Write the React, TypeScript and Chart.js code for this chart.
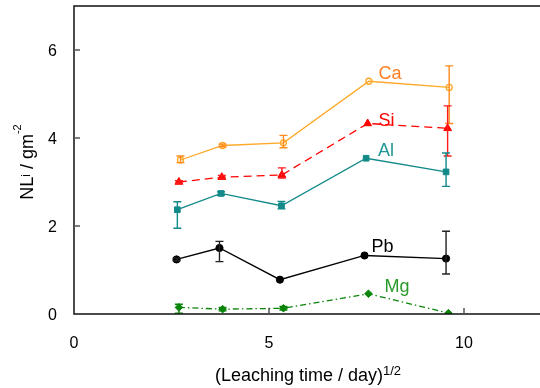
import React, { useEffect, useRef } from "react";
import { Chart, registerables } from "chart.js";
Chart.register(...registerables);

// ---- axis data ----
const X_MIN = 0;
const X_MAX = 12;
const Y_MIN = 0;
const Y_MAX = 7;
const X_TICKS = [0, 5, 10];
const Y_TICKS = [0, 2, 4, 6];

// ---- series data ----
const CA_X = [2.73, 3.81, 5.37, 7.56, 9.62];
const CA_Y = [3.5, 3.83, 3.89, 5.29, 5.15];
const CA_HI = [3.59, 3.86, 4.06, null, 5.64];
const CA_LO = [3.44, 3.8, 3.78, null, 4.33];

const SI_X = [2.69, 3.79, 5.33, 7.53, 9.58];
const SI_Y = [3.0, 3.11, 3.16, 4.33, 4.22];
const SI_HI = [3.03, 3.15, 3.32, null, 4.73];
const SI_LO = [2.97, 3.07, 3.09, null, 3.59];

const AL_X = [2.65, 3.77, 5.32, 7.49, 9.54];
const AL_Y = [2.37, 2.74, 2.46, 3.54, 3.23];
const AL_HI = [2.55, 2.78, 2.56, null, 3.66];
const AL_LO = [1.95, 2.7, 2.39, null, 2.9];

const PB_X = [2.63, 3.73, 5.28, 7.45, 9.54];
const PB_Y = [1.24, 1.5, 0.78, 1.33, 1.26];
const PB_HI = [1.27, 1.65, null, null, 1.88];
const PB_LO = [1.21, 1.19, null, null, 0.91];

const MG_X = [2.69, 3.81, 5.37, 7.55, 9.6];
const MG_Y = [0.15, 0.11, 0.13, 0.46, 0.02];
const MG_HI = [0.22, 0.15, 0.17, null, null];
const MG_LO = [0.02, 0.07, 0.09, null, null];

// series labels (text, x, baseline y in data units)
const LABEL_TEXT = ["Ca", "Si", "Al", "Pb", "Mg"];
const LABEL_X = [8.1, 8.01, 8.0, 7.91, 8.28];
const LABEL_Y = [5.34, 4.27, 3.59, 1.42, 0.5];

const X_TITLE = "(Leaching time / day)";
const X_TITLE_SUP = "1/2";

const FONT = '"Liberation Sans", Arial, Helvetica, sans-serif';

const SERIES = [
  { name: "Ca", xs: CA_X, ys: CA_Y, hi: CA_HI, lo: CA_LO, color: "#FFA726", err: "#FF8A1E", label: "#FF7F22", style: "circle", r: 3, fill: false, dash: [] as number[] },
  { name: "Si", xs: SI_X, ys: SI_Y, hi: SI_HI, lo: SI_LO, color: "#FF0000", err: "#FF1A1A", label: "#FF0000", style: "triangle", r: 4.5, fill: true, dash: [8, 5] },
  { name: "Al", xs: AL_X, ys: AL_Y, hi: AL_HI, lo: AL_LO, color: "#138A8A", err: "#138A8A", label: "#1E9494", style: "rect", r: 4, fill: true, dash: [] as number[] },
  { name: "Pb", xs: PB_X, ys: PB_Y, hi: PB_HI, lo: PB_LO, color: "#000000", err: "#222222", label: "#000000", style: "circle", r: 3.6, fill: true, dash: [] as number[] },
  { name: "Mg", xs: MG_X, ys: MG_Y, hi: MG_HI, lo: MG_LO, color: "#0A850A", err: "#0A850A", label: "#2A9A2A", style: "rectRot", r: 3.8, fill: true, dash: [6, 3, 1.5, 3] },
];

function drawRich(ctx: CanvasRenderingContext2D, segs: { t: string; size: number; dy: number }[], cx: number, baseY: number) {
  let total = 0;
  for (const s of segs) {
    ctx.font = `${s.size}px ${FONT}`;
    total += ctx.measureText(s.t).width;
  }
  let x = cx - total / 2;
  ctx.textAlign = "left";
  ctx.textBaseline = "alphabetic";
  for (const s of segs) {
    ctx.font = `${s.size}px ${FONT}`;
    ctx.fillText(s.t, x, baseY + s.dy);
    x += ctx.measureText(s.t).width;
  }
}

const decorPlugin = {
  id: "decor",
  afterDatasetsDraw(chart: any) {
    const ctx = chart.ctx as CanvasRenderingContext2D;
    const xs = chart.scales.x;
    const ys = chart.scales.y;
    ctx.save();
    SERIES.forEach((s) => {
      ctx.strokeStyle = s.err;
      ctx.lineWidth = 1.4;
      ctx.setLineDash([]);
      s.xs.forEach((xv, i) => {
        const h = s.hi[i];
        const l = s.lo[i];
        if (h == null || l == null) return;
        const px = xs.getPixelForValue(xv);
        const py1 = ys.getPixelForValue(h);
        const py2 = ys.getPixelForValue(l);
        ctx.beginPath();
        ctx.moveTo(px, py1);
        ctx.lineTo(px, py2);
        ctx.moveTo(px - 4, py1);
        ctx.lineTo(px + 4, py1);
        ctx.moveTo(px - 4, py2);
        ctx.lineTo(px + 4, py2);
        ctx.stroke();
      });
    });
    ctx.restore();
  },
  afterDraw(chart: any) {
    const ctx = chart.ctx as CanvasRenderingContext2D;
    const a = chart.chartArea;
    const xs = chart.scales.x;
    const ys = chart.scales.y;
    ctx.save();
    // frame
    ctx.strokeStyle = "#111";
    ctx.lineWidth = 1.5;
    ctx.beginPath();
    ctx.moveTo(a.right, a.top);
    ctx.lineTo(a.left, a.top);
    ctx.lineTo(a.left, a.bottom);
    ctx.lineTo(a.right, a.bottom);
    ctx.stroke();
    // inward ticks
    ctx.strokeStyle = "#555";
    ctx.beginPath();
    Y_TICKS.forEach((v) => {
      if (v === Y_MIN) return;
      const py = ys.getPixelForValue(v);
      ctx.moveTo(a.left, py);
      ctx.lineTo(a.left + 6, py);
    });
    X_TICKS.forEach((v) => {
      if (v === X_MIN) return;
      const px = xs.getPixelForValue(v);
      ctx.moveTo(px, a.bottom);
      ctx.lineTo(px, a.bottom - 6);
    });
    ctx.stroke();
    // series labels
    ctx.textAlign = "center";
    ctx.textBaseline = "alphabetic";
    ctx.font = `18px ${FONT}`;
    LABEL_TEXT.forEach((t, i) => {
      ctx.fillStyle = SERIES[i].label;
      ctx.fillText(t, xs.getPixelForValue(LABEL_X[i]), ys.getPixelForValue(LABEL_Y[i]));
    });
    // x title
    ctx.fillStyle = "#000";
    drawRich(
      ctx,
      [
        { t: X_TITLE, size: 18, dy: 0 },
        { t: X_TITLE_SUP, size: 13, dy: -6 },
      ],
      (a.left + a.right) / 2,
      381
    );
    // y title
    ctx.save();
    ctx.translate(33, (a.top + a.bottom) / 2 + 2);
    ctx.rotate(-Math.PI / 2);
    drawRich(
      ctx,
      [
        { t: "NL", size: 18, dy: 0 },
        { t: "i", size: 12, dy: -3 },
        { t: " / gm", size: 18, dy: 0 },
        { t: "-2", size: 11, dy: -12 },
      ],
      0,
      0
    );
    ctx.restore();
    ctx.restore();
  },
};

export default function App() {
  const ref = useRef<HTMLCanvasElement | null>(null);
  useEffect(() => {
    if (!ref.current) return;
    const datasets = SERIES.map((s) => ({
      label: s.name,
      data: s.xs.map((x, i) => ({ x, y: s.ys[i] })),
      borderColor: s.color,
      backgroundColor: s.fill ? s.color : "rgba(255,255,255,0)",
      borderWidth: 1.3,
      borderDash: s.dash,
      pointStyle: s.style,
      pointRadius: s.r,
      pointBorderWidth: s.fill ? 1 : 1.3,
      pointBorderColor: s.color,
      pointBackgroundColor: s.fill ? s.color : "rgba(255,255,255,0)",
      showLine: true,
      tension: 0,
    }));
    const chart = new Chart(ref.current, {
      type: "scatter",
      data: { datasets },
      options: {
        responsive: false,
        animation: false,
        events: [],
        layout: { padding: { left: 0, top: 6, right: 6, bottom: 0 } },
        plugins: { legend: { display: false }, tooltip: { enabled: false }, title: { display: false } },
        scales: {
          x: {
            type: "linear",
            min: X_MIN,
            max: X_MAX,
            grid: { display: false, drawTicks: false },
            border: { display: false },
            afterBuildTicks: (sc: any) => {
              sc.ticks = X_TICKS.map((v) => ({ value: v }));
            },
            afterFit: (sc: any) => {
              sc.height = 74;
              sc.paddingLeft = 0;
              sc.paddingRight = 0;
            },
            ticks: { color: "#000", font: { family: FONT, size: 16 }, padding: 20, maxRotation: 0, autoSkip: false },
          },
          y: {
            type: "linear",
            min: Y_MIN,
            max: Y_MAX,
            grid: { display: false, drawTicks: false },
            border: { display: false },
            afterBuildTicks: (sc: any) => {
              sc.ticks = Y_TICKS.map((v) => ({ value: v }));
            },
            afterFit: (sc: any) => {
              sc.width = 74;
              sc.paddingTop = 0;
              sc.paddingBottom = 0;
            },
            ticks: { color: "#000", font: { family: FONT, size: 16 }, padding: 17, labelOffset: 2 },
          },
        },
      },
      plugins: [decorPlugin],
    });
    return () => chart.destroy();
  }, []);
  return (
    <div style={{ position: "fixed", left: 0, top: 0, width: 540, height: 388, overflow: "hidden", background: "#fff" }}>
      <canvas ref={ref} width={548} height={388} style={{ display: "block" }} />
    </div>
  );
}
